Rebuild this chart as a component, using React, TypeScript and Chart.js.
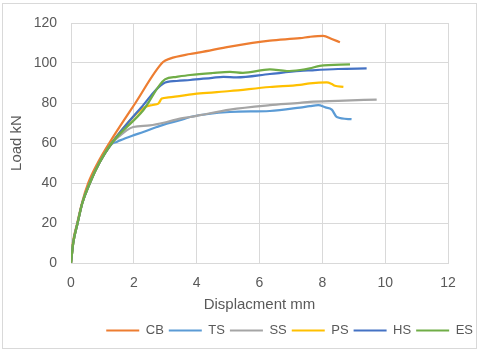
import React, { useEffect, useRef } from "react";
import { Chart, registerables } from "chart.js";

Chart.register(...registerables);

const seriesNames = ["CB", "TS", "SS", "PS", "HS", "ES"];
const seriesColors = ["#ED7D31", "#5B9BD5", "#A5A5A5", "#FFC000", "#4472C4", "#70AD47"];

const cbX = [0, 0.06, 0.2, 0.35, 0.55, 0.85, 1.22, 2.05, 2.93, 3.15, 3.79, 4.1, 5.06, 6.33, 7.29, 7.6, 8.03, 8.3, 8.56];
const cbY = [0, 10, 20, 30, 40, 50, 60, 80, 100.5, 102.2, 104.5, 105.3, 108.2, 111.2, 112.4, 113.1, 113.6, 112, 110.4];

const tsX = [0, 0.07, 0.21, 0.36, 0.6, 0.9, 1.3, 1.45, 1.56, 1.98, 2.3, 2.73, 3.05, 3.47, 3.79, 5.06, 6.33, 7.29, 7.6, 7.87, 8.1, 8.3, 8.46, 8.93];
const tsY = [0, 10, 20, 30, 40, 50, 59.5, 60.5, 61.3, 63.8, 65.5, 68, 69.7, 71.4, 73, 75.5, 76, 77.7, 78.4, 78.9, 77.8, 76.7, 73, 71.9];

const ssX = [0, 0.07, 0.21, 0.36, 0.6, 0.9, 1.3, 1.55, 1.77, 1.98, 2.51, 3.05, 3.47, 3.79, 4.1, 5.06, 6.33, 7.29, 7.6, 8.5, 9.73];
const ssY = [0, 10, 20, 30, 40, 50, 60, 63.5, 66.3, 68, 68.8, 70.5, 72.2, 73, 73.9, 76.7, 78.9, 80.1, 80.6, 81.1, 81.7];

const psX = [0, 0.07, 0.21, 0.36, 0.6, 0.9, 1.3, 2.3, 2.6, 2.78, 2.89, 3.1, 4.1, 5.06, 6.33, 7.29, 7.6, 8.14, 8.3, 8.4, 8.67];
const psY = [0, 10, 20, 30, 40, 50, 60, 77.5, 79, 79.7, 82.2, 82.8, 84.8, 86, 88, 89.1, 89.8, 90.3, 89.5, 88.6, 88.1];

const hsX = [0, 0.07, 0.21, 0.36, 0.6, 0.9, 1.3, 2.25, 2.94, 3.36, 3.79, 4.5, 4.85, 5.27, 6.33, 7.29, 7.6, 8.5, 9.41];
const hsY = [0, 10, 20, 30, 40, 50, 60, 78, 89.8, 91, 91.5, 92.6, 93.1, 92.8, 94.5, 96, 96.3, 97, 97.3];

const esX = [0, 0.07, 0.21, 0.36, 0.6, 0.9, 1.3, 2.3, 2.99, 3.36, 3.79, 4.5, 5.06, 5.47, 6.33, 6.87, 7.29, 7.6, 7.92, 8.88];
const esY = [0, 10, 20, 30, 40, 50, 60, 76.4, 91.8, 93.1, 94, 95, 95.6, 95.1, 96.8, 96, 96.5, 97.3, 98.6, 99.3];

const seriesXs = [cbX, tsX, ssX, psX, hsX, esX];
const seriesYs = [cbY, tsY, ssY, psY, hsY, esY];

const xTitle = "Displacment mm";
const yTitle = "Load kN";

const FONT = "'Liberation Sans', Arial, sans-serif";
const TEXT = "#595959";
const GRID = "#D9D9D9";

const framePlugin = {
  id: "frame",
  beforeDraw(chart: any) {
    const ctx = chart.ctx;
    ctx.save();
    ctx.fillStyle = "#ffffff";
    ctx.fillRect(0, 0, chart.width, chart.height);
    ctx.strokeStyle = GRID;
    ctx.lineWidth = 1;
    ctx.strokeRect(2.5, 3.5, 474, 345);
    ctx.restore();
  },
};

export default function App() {
  const ref = useRef<HTMLCanvasElement | null>(null);

  useEffect(() => {
    document.body.style.margin = "0";
    if (!ref.current) return;
    const datasets = seriesNames.map((name, i) => ({
      label: name,
      data: seriesXs[i].map((x, j) => ({ x, y: seriesYs[i][j] })),
      borderColor: seriesColors[i],
      backgroundColor: seriesColors[i],
      borderWidth: 2.25,
      pointRadius: 0,
      cubicInterpolationMode: "monotone" as const,
      order: seriesNames.length - i,
      yAxisID: "y",
    }));
    const chart = new Chart(ref.current, {
      type: "line",
      data: { datasets },
      plugins: [framePlugin],
      options: {
        animation: false,
        responsive: false,
        parsing: true,
        layout: { padding: { left: 0, right: 2, top: 23, bottom: 8 } },
        plugins: {
          tooltip: { enabled: false },
          legend: {
            position: "bottom",
            align: "end",
            labels: {
              boxWidth: 33,
              boxHeight: 2,
              padding: 5,
              color: TEXT,
              font: { family: FONT, size: 13 },
              sort: (a: any, b: any) => a.datasetIndex - b.datasetIndex,
              generateLabels: (c: any) => {
                const items = Chart.defaults.plugins.legend.labels.generateLabels(c);
                return items.map((it: any) => ({
                  ...it,
                  fillStyle: seriesColors[it.datasetIndex],
                  strokeStyle: seriesColors[it.datasetIndex],
                  lineWidth: 0,
                }));
              },
            },
          },
        },
        scales: {
          x: {
            type: "linear",
            min: 0,
            max: 12,
            afterFit: (s: any) => {
              s.height = 56;
            },
            ticks: {
              stepSize: 2,
              padding: 12,
              color: TEXT,
              font: { family: FONT, size: 14 },
            },
            grid: { color: GRID, drawTicks: false, lineWidth: 1 },
            border: { color: GRID },
            title: {
              display: true,
              text: xTitle,
              color: TEXT,
              font: { family: FONT, size: 15 },
              padding: { top: 0, bottom: 5 },
            },
          },
          y: {
            type: "linear",
            position: "left",
            min: 0,
            max: 120,
            afterFit: (s: any) => {
              s.width = 71;
            },
            ticks: {
              stepSize: 20,
              padding: 14,
              color: TEXT,
              font: { family: FONT, size: 14 },
            },
            grid: { color: GRID, drawTicks: false, lineWidth: 1 },
            border: { color: GRID },
            title: {
              display: true,
              text: yTitle,
              color: TEXT,
              font: { family: FONT, size: 15 },
              padding: { top: 8, bottom: 0 },
            },
          },
          y2: {
            type: "linear",
            position: "right",
            display: true,
            afterFit: (s: any) => {
              s.width = 30;
            },
            ticks: { display: false },
            grid: { display: false, drawTicks: false },
            border: { display: false },
          },
        },
      },
    });
    return () => chart.destroy();
  }, []);

  return (
    <div style={{ width: 480, height: 355 }}>
      <canvas ref={ref} width={480} height={355} style={{ display: "block" }} />
    </div>
  );
}
